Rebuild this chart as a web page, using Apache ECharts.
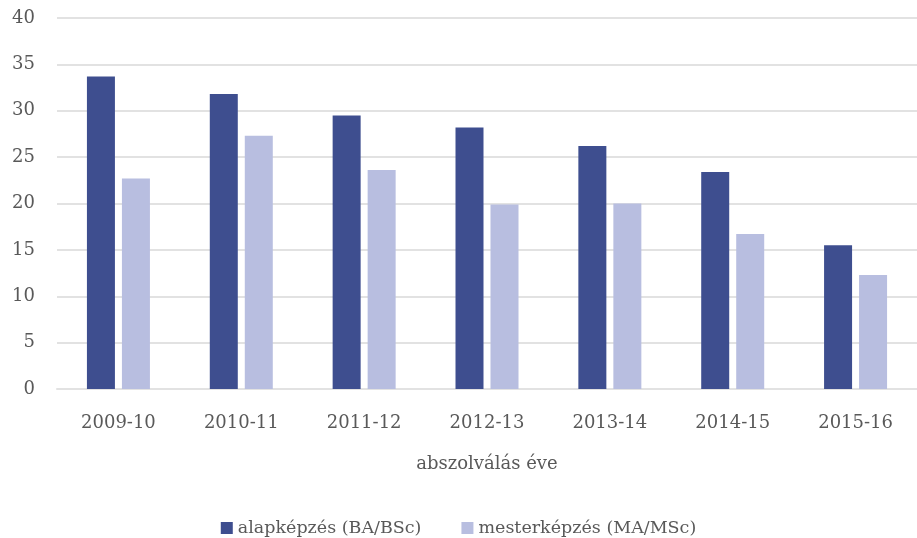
<!DOCTYPE html>
<html>
<head>
<meta charset="utf-8">
<script src="https://cdn.jsdelivr.net/npm/echarts@6/dist/echarts.min.js"></script>
<style>
  html, body { margin: 0; padding: 0; background: #fff; }
  #chart { width: 917px; height: 538px; }
</style>
</head>
<body>
<div id="chart"></div>
<script>
const categories = ['2009-10', '2010-11', '2011-12', '2012-13', '2013-14', '2014-15', '2015-16'];
const alapkepzes = [33.7, 31.8, 29.5, 28.2, 26.2, 23.4, 15.5];
const mesterkepzes = [22.7, 27.3, 23.6, 19.9, 20.0, 16.7, 12.3];
const seriesNames = ['alapképzés (BA/BSc)', 'mesterképzés (MA/MSc)'];

const font = '"DejaVu Serif", "Liberation Serif", serif';
const textColor = '#595959';

const myChart = echarts.init(document.getElementById('chart'));

const option = {
  animation: false,
  textStyle: { fontFamily: font },
  grid: { left: 57, right: 0, top: 18, bottom: 149, containLabel: false },
  legend: {
    top: 514,
    left: 'center',
    itemWidth: 12,
    itemHeight: 12,
    itemGap: 40,
    icon: 'rect',
    textStyle: { color: textColor, fontSize: 17.5, fontFamily: font },
    data: seriesNames
  },
  xAxis: {
    type: 'category',
    data: categories,
    name: 'abszolválás éve',
    nameLocation: 'middle',
    nameGap: 66,
    nameTextStyle: { color: textColor, fontSize: 18, fontFamily: font },
    axisLine: { lineStyle: { color: '#e2e2e2', width: 2 } },
    axisTick: { show: false },
    axisLabel: { color: textColor, fontSize: 18, fontFamily: font, margin: 25 }
  },
  yAxis: {
    type: 'value',
    min: 0,
    max: 40,
    interval: 5,
    axisLine: { show: false },
    axisTick: { show: false },
    axisLabel: { color: textColor, fontSize: 18, fontFamily: font, margin: 22 },
    splitLine: { lineStyle: { color: '#e2e2e2', width: 2 } }
  },
  series: [
    {
      name: seriesNames[0],
      type: 'bar',
      barWidth: 28,
      barGap: '25%',
      itemStyle: { color: '#3e4e8f' },
      data: alapkepzes
    },
    {
      name: seriesNames[1],
      type: 'bar',
      barWidth: 28,
      barGap: '25%',
      itemStyle: { color: '#b8bee0' },
      data: mesterkepzes
    }
  ]
};

myChart.setOption(option);
</script>
</body>
</html>
